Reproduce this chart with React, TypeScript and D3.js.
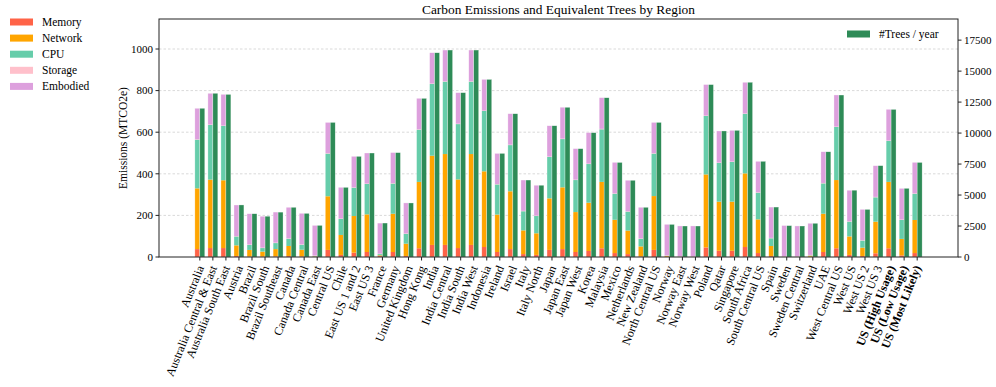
import * as d3 from 'd3';

const categories = [
  'Australia', 'Australia Central & East', 'Australia South East', 'Austria', 'Brazil',
  'Brazil South', 'Brazil Southeast', 'Canada', 'Canada Central', 'Canada East',
  'Central US', 'Chile', 'East US 1 and 2', 'East US 3', 'France', 'Germany',
  'United Kingdom', 'Hong Kong', 'India', 'India Central', 'India South', 'India West',
  'Indonesia', 'Ireland', 'Israel', 'Italy', 'Italy North', 'Japan', 'Japan East',
  'Japan West', 'Korea', 'Malaysia', 'Mexico', 'Netherlands', 'New Zealand',
  'North Central US', 'Norway', 'Norway East', 'Norway West', 'Poland', 'Qatar',
  'Singapore', 'South Africa', 'South Central US', 'Spain', 'Sweden', 'Sweden Central',
  'Switzerland', 'UAE', 'West Central US', 'West US', 'West US 2', 'West US 3',
  'US (High Usage)', 'US (Low Usage)', 'US (Most Likely)',
];

const boldCategories = ['US (High Usage)', 'US (Low Usage)', 'US (Most Likely)'];

// MTCO2e per component
const memory = [
  38, 43, 43, 5, 2, 2, 3, 5, 3, 1, 34, 10, 21, 24, 5, 24, 5, 42, 58, 58, 43, 58, 48, 24,
  38, 14, 10, 34, 38, 24, 29, 42, 19, 14, 3, 34, 1, 0.3, 0.3, 46, 30, 30, 48, 19, 5, 0.3,
  0.3, 1, 24, 42, 10, 5, 18, 42, 8, 19,
];
const network = [
  292, 329, 326, 51, 32, 24, 35, 48, 32, 2, 258, 96, 176, 181, 3, 184, 59, 319, 429, 437,
  330, 437, 364, 180, 278, 114, 104, 248, 297, 192, 232, 319, 160, 113, 48, 259, 4, 0.5,
  0.5, 351, 236, 236, 354, 162, 48, 0.5, 0.5, 5, 184, 328, 89, 40, 152, 319, 79, 159,
];
const cpu = [
  234, 263, 261, 43, 24, 17, 29, 35, 24, 2, 205, 77, 136, 146, 6, 145, 47, 251, 345, 348,
  266, 348, 290, 145, 222, 92, 83, 199, 232, 154, 186, 253, 125, 91, 36, 204, 1, 0.5, 0.5,
  281, 186, 191, 286, 128, 37, 0.5, 0.5, 2, 146, 255, 71, 34, 117, 197, 91, 126,
];
const storage = [
  2, 2, 2, 2, 2, 2, 2, 2, 2, 2, 2, 2, 2, 2, 2, 2, 2, 2, 2, 2, 2, 2, 2, 2, 2, 2, 2, 2, 2, 2,
  2, 2, 2, 2, 2, 2, 2, 2, 2, 2, 2, 2, 2, 2, 2, 2, 2, 2, 2, 2, 2, 2, 2, 2, 2, 2,
];
const embodied = [
  149, 150, 150, 149, 148, 151, 147, 149, 149, 145, 148, 150, 149, 147, 147, 147, 147, 149,
  148, 150, 149, 150, 150, 147, 149, 148, 146, 148, 151, 149, 149, 150, 149, 149, 150, 148,
  149, 146, 146, 149, 152, 150, 150, 149, 148, 148, 146, 152, 150, 152, 149, 148, 150, 150,
  150, 149,
];

// equivalent trees per year
const trees = [
  12000, 13210, 13120, 4200, 3490, 3290, 3620, 4010, 3520, 2550, 10860, 5620, 8120, 8390,
  2740, 8420, 4360, 12800, 16480, 16700, 13260, 16700, 14330, 8360, 11560, 6210, 5790,
  10590, 12080, 8740, 10030, 12850, 7630, 6190, 4010, 10860, 2630, 2500, 2500, 13910,
  10170, 10220, 14100, 7720, 4030, 2530, 2500, 2720, 8490, 13070, 5390, 3840, 7370, 11910,
  5540, 7630,
];

const leftTicks = [0, 200, 400, 600, 800, 1000];
const rightTicks = [0, 2500, 5000, 7500, 10000, 12500, 15000, 17500];

const components = ['Memory', 'Network', 'CPU', 'Storage', 'Embodied'];
const colors = ['#ff6347', '#ffa500', '#66cdaa', '#ffc0cb', '#dda0dd'];
const treeColor = '#2e8b57';

const font = '"Liberation Serif", "DejaVu Serif", serif';

export default function App() {
  const width = 996;
  const height = 387;
  const left = 159;
  const right = 958;
  const top = 19;
  const bottom = 257;

  const rows = categories.map((c, i) => ({
    category: c,
    Memory: memory[i],
    Network: network[i],
    CPU: cpu[i],
    Storage: storage[i],
    Embodied: embodied[i],
  }));
  const totals = rows.map((r) => r.Memory + r.Network + r.CPU + r.Storage + r.Embodied);
  const series = d3.stack<any>().keys(components)(rows);

  const x = d3.scaleBand().domain(categories).range([left, right]).paddingOuter(2.63).paddingInner(0);
  const bw = x.step() * 0.38;
  const cx = (c: string) => (x(c) as number) + x.bandwidth() / 2;

  const yL = d3.scaleLinear().domain([0, (d3.max(totals) as number) * 1.15]).range([bottom, top]);
  const yR = d3.scaleLinear().domain([0, (d3.max(trees) as number) * 1.15]).range([bottom, top]);

  return (
    <div style={{ position: 'absolute', left: 0, top: 0 }}>
      <svg width={width} height={height} style={{ display: 'block', fontFamily: font }}>
        <rect width={width} height={height} fill="white" />

        {/* grid */}
        {leftTicks.slice(1).map((t) => (
          <line key={t} x1={left} x2={right} y1={yL(t)} y2={yL(t)} stroke="#cfcfcf" strokeWidth={0.8} strokeDasharray="2.5,2" />
        ))}

        {/* stacked bars */}
        {series.map((s, k) => (
          <g key={s.key} fill={colors[k]}>
            {s.map((d, i) => (
              <rect
                key={i}
                x={cx(categories[i]) - bw}
                width={bw}
                y={yL(d[1])}
                height={Math.max(0, yL(d[0]) - yL(d[1]))}
              />
            ))}
          </g>
        ))}
        {/* outline of stacked bars */}
        {totals.map((t, i) => (
          <rect key={i} x={cx(categories[i]) - bw} width={bw} y={yL(t)} height={bottom - yL(t)} fill="none" stroke="white" strokeOpacity={0.6} strokeWidth={0.5} />
        ))}

        {/* trees */}
        {trees.map((t, i) => (
          <rect key={i} x={cx(categories[i])} width={bw} y={yR(t)} height={bottom - yR(t)} fill={treeColor} stroke="white" strokeOpacity={0.6} strokeWidth={0.5} />
        ))}

        {/* frame */}
        <rect x={left} y={top} width={right - left} height={bottom - top} fill="none" stroke="#222" strokeWidth={1} />

        {/* left axis */}
        {leftTicks.map((t) => (
          <g key={t} transform={`translate(${left},${yL(t)})`}>
            <line x1={-3.5} x2={0} stroke="#222" />
            <text x={-6} dy="0.35em" textAnchor="end" fontSize={11}>{t}</text>
          </g>
        ))}
        <text transform={`translate(123,${(top + bottom) / 2}) rotate(-90)`} textAnchor="middle" dy="0.35em" fontSize={11.5}>
          Emissions (MTCO2e)
        </text>

        {/* right axis */}
        {rightTicks.map((t) => (
          <g key={t} transform={`translate(${right},${yR(t)})`}>
            <line x1={0} x2={3.5} stroke="#222" />
            <text x={6} dy="0.35em" textAnchor="start" fontSize={11}>{t}</text>
          </g>
        ))}

        {/* x axis */}
        {categories.map((c) => (
          <g key={c} transform={`translate(${cx(c)},${bottom})`}>
            <line y1={0} y2={3.5} stroke="#222" />
            <text
              transform="translate(0.5,9) rotate(-68)"
              textAnchor="end"
              dy="0.35em"
              fontSize={12}
              fontWeight={boldCategories.includes(c) ? 'bold' : 'normal'}
            >
              {c}
            </text>
          </g>
        ))}

        {/* title */}
        <text x={(left + right) / 2} y={14} textAnchor="middle" fontSize={13.4}>
          Carbon Emissions and Equivalent Trees by Region
        </text>

        {/* component legend */}
        {components.map((c, k) => (
          <g key={c} transform={`translate(10,${22 + k * 16.1})`}>
            <rect x={0} y={-3.5} width={23} height={7} fill={colors[k]} />
            <text x={32} dy="0.35em" fontSize={11.5}>{c}</text>
          </g>
        ))}

        {/* trees legend */}
        <g transform="translate(847,34)">
          <rect x={0} y={-3.5} width={23} height={7} fill={treeColor} />
          <text x={32} dy="0.35em" fontSize={11.5}>#Trees / year</text>
        </g>
      </svg>
    </div>
  );
}
